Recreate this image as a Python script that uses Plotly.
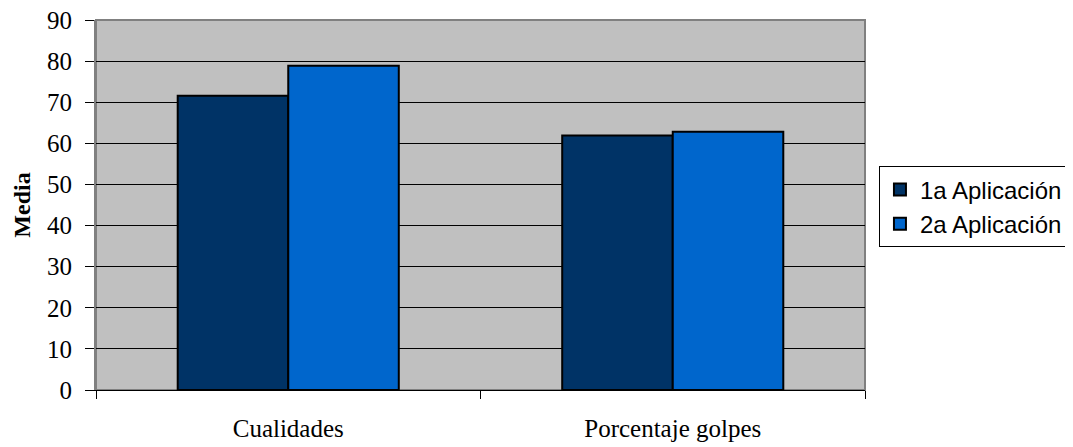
import plotly.graph_objects as go

categories = ["Cualidades", "Porcentaje golpes"]
series_names = ["1a Aplicación", "2a Aplicación"]
aplicacion1 = [71.6, 61.9]
aplicacion2 = [78.9, 62.8]
colors = ["#003366", "#0066CC"]

fig = go.Figure()
for name, vals, col in zip(series_names, [aplicacion1, aplicacion2], colors):
    fig.add_trace(go.Bar(
        x=categories, y=vals, name=name,
        marker=dict(color=col, line=dict(color="black", width=2)),
    ))

fig.update_layout(
    width=1065, height=439,
    margin=dict(l=88, r=208, t=12, b=57, autoexpand=False),
    paper_bgcolor="white",
    plot_bgcolor="#C0C0C0",
    barmode="group",
    bargap=0.425,
    bargroupgap=0,
    font=dict(family="Liberation Serif", size=25, color="black"),
    legend=dict(
        xref="container", yref="container",
        x=0.8178, y=0.547, xanchor="left", yanchor="middle",
        bordercolor="black", borderwidth=1, bgcolor="white",
        font=dict(family="Liberation Sans", size=24, color="black"),
        itemsizing="constant", tracegroupgap=0, itemwidth=30,
    ),
    xaxis=dict(
        showgrid=False, tickson="boundaries", ticks="outside", ticklen=8,
        tickcolor="black", showline=True, linecolor="black", linewidth=1,
        tickfont=dict(family="Liberation Serif", size=25),
        ticklabelstandoff=16,
    ),
    yaxis=dict(
        range=[0, 90], dtick=10, showgrid=True, gridcolor="black", gridwidth=1,
        ticks="outside", ticklen=9, tickcolor="black",
        showline=True, linecolor="#808080", linewidth=2,
        tickfont=dict(family="Liberation Serif", size=25),
        ticklabelstandoff=8, ticklabeloverflow="allow",
        title=dict(text="<b>Media</b>", font=dict(family="Liberation Serif", size=24), standoff=10),
        zeroline=False,
    ),
    shapes=[dict(type="rect", xref="paper", yref="paper", x0=0, x1=1, y0=0, y1=1,
                 line=dict(color="#808080", width=2), layer="below")],
)

fig.write_html("out.html")
